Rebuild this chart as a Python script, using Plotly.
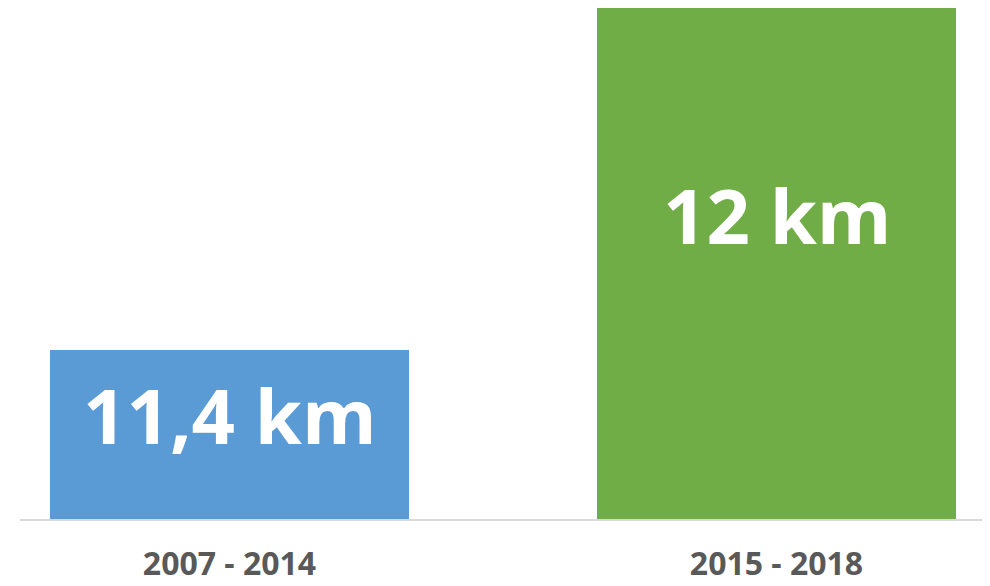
import plotly.graph_objects as go

periods = ["2007 - 2014", "2015 - 2018"]
km_values = [11.4, 12.0]
value_labels = ["11,4 km", "12 km"]
bar_colors = ["#5B9BD5", "#70AD47"]

# where the big labels sit on the y scale (placed by hand, as in the original)
label_y = [11.287, 11.638]

fig = go.Figure()
fig.add_trace(go.Bar(x=periods, y=km_values, marker=dict(color=bar_colors, line=dict(width=0)),
                     width=0.658, base=0, hoverinfo="skip"))

for p, lab, yy in zip(periods, value_labels, label_y):
    fig.add_annotation(x=p, y=yy, text=f"<b>{lab}</b>", showarrow=False,
                       font=dict(family="Open Sans", size=76, color="white"),
                       xanchor="center", yanchor="middle")

# page body has an 8px margin, so the figure is a little smaller than the window
fig.update_layout(
    width=982, height=578,
    margin=dict(l=12, r=4, t=0, b=67),
    paper_bgcolor="white", plot_bgcolor="white",
    showlegend=False,
    bargap=0,
)
fig.update_xaxes(range=[-0.383, 1.383], showline=True, linecolor="#D9D9D9", linewidth=1.5,
                 showgrid=False, ticks="", ticklabelstandoff=16, automargin=False,
                 tickfont=dict(family="Open Sans", size=32, color="#595959", weight="bold"))
fig.update_yaxes(range=[11.104, 12.0], visible=False, showgrid=False, zeroline=False,
                 automargin=False)

fig.write_html("out.html")
